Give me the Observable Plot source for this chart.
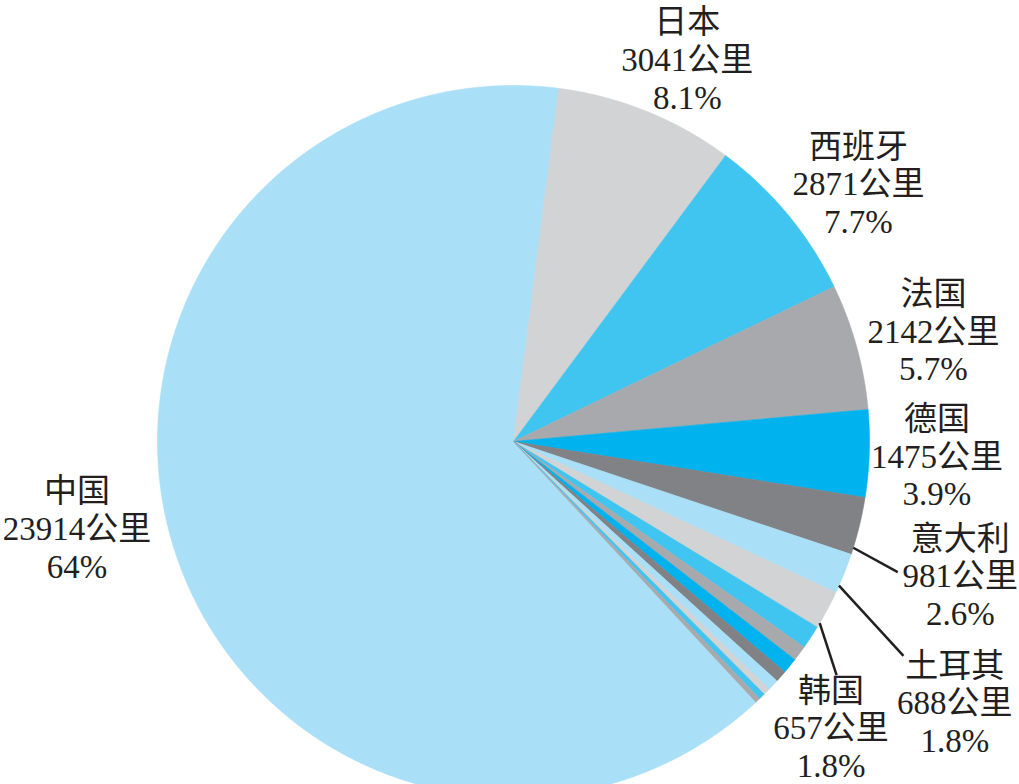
<!DOCTYPE html>
<html><head><meta charset="utf-8">
<script src="https://cdn.jsdelivr.net/npm/d3@7"></script>
<script src="https://cdn.jsdelivr.net/npm/@observablehq/plot@0.6"></script>
<style>body{margin:0;background:#fff;overflow:hidden}</style>
</head><body><div id="chart"></div>
<script>
// ---- data ----
const countries = ["中国","日本","西班牙","法国","德国","意大利","土耳其","韩国",
  "其他1","其他2","其他3","其他4","其他5","其他6","其他7","其他8"];
const lengthKm = [23914,3041,2871,2142,1475,981,688,657,400,260,265,200,190,118,106,85];
const shareText = ["64%","8.1%","7.7%","5.7%","3.9%","2.6%","1.8%","1.8%"];
const palette = ["#a9dff7","#d1d3d4","#3fc5f0","#a7a9ac","#00b2ee","#808285"];

// ---- layout (polar tweaks relative to slice mid-angle, radius in pie radii) ----
const firstSliceEndDeg = 7.3;   // where China ends / Japan starts, clockwise from top
const labelAngleShift = [6.6, 2.5, 2.8, 0.7, 0, 2.9, 8.8, 13.7];
const labelRadius = [1.25, 1.18, 1.21, 1.22, 1.19, 1.31, 1.44, 1.2];
const leaderIdx = [5, 6, 7];
const leaderStartShift = [3.6, 2.1, 2.4];
const leaderEndShift = [5.0, 7.0, 7.6];
const leaderEndRadius = [1.14, 1.25, 1.12];

const rad = d => d * Math.PI / 180;
const rows = countries.map((c, i) => ({name: c, km: lengthKm[i], color: palette[i % palette.length]}));
const total = d3.sum(lengthKm);
const start = rad(firstSliceEndDeg) - 2 * Math.PI * lengthKm[0] / total;
const arcs = d3.pie().sort(null).value(d => d.km).startAngle(start).endAngle(start + 2 * Math.PI)(rows);

const poly = [];
for (const a of arcs) {
  const n = Math.max(2, Math.ceil((a.endAngle - a.startAngle) / 0.004));
  poly.push({name: a.data.name, color: a.data.color, x: 0, y: 0});
  for (let k = 0; k <= n; k++) {
    const t = a.startAngle + (a.endAngle - a.startAngle) * k / n;
    poly.push({name: a.data.name, color: a.data.color, x: Math.sin(t), y: Math.cos(t)});
  }
  poly.push({name: a.data.name, color: a.data.color, x: 0, y: 0});
}

const mid = a => (a.startAngle + a.endAngle) / 2;
const labels = shareText.map((s, i) => {
  const a = mid(arcs[i]) + rad(labelAngleShift[i]);
  return {text: `${countries[i]}\n${lengthKm[i]}公里\n${s}`, x: labelRadius[i] * Math.sin(a), y: labelRadius[i] * Math.cos(a)};
});
const leaders = leaderIdx.map((i, j) => {
  const a0 = mid(arcs[i]) + rad(leaderStartShift[j]);
  const a1 = mid(arcs[i]) + rad(leaderEndShift[j]);
  return {x1: Math.sin(a0), y1: Math.cos(a0), x2: leaderEndRadius[j] * Math.sin(a1), y2: leaderEndRadius[j] * Math.cos(a1)};
});

const chart = Plot.plot({
  width: 1019, height: 784,
  margin: 0,
  x: {domain: [-1, 1], range: [157, 869], axis: null},
  y: {domain: [-1, 1], range: [797, 85], axis: null},
  color: {type: "identity"},
  style: {background: "#fff"},
  marks: [
    Plot.line(poly, {x: "x", y: "y", z: "name", fill: "color", stroke: "color", strokeWidth: 0.6, curve: "linear"}),
    Plot.link(leaders, {x1: "x1", y1: "y1", x2: "x2", y2: "y2", stroke: "#231f20", strokeWidth: 2.5}),
    Plot.text(labels, {x: "x", y: "y", text: "text", fontSize: 33, lineHeight: 1.14,
      fontFamily: "'Liberation Serif', 'Noto Sans CJK SC', serif", fill: "#231f20",
      textAnchor: "middle", lineAnchor: "middle"})
  ]
});
document.getElementById("chart").appendChild(chart);
</script>
</body></html>
